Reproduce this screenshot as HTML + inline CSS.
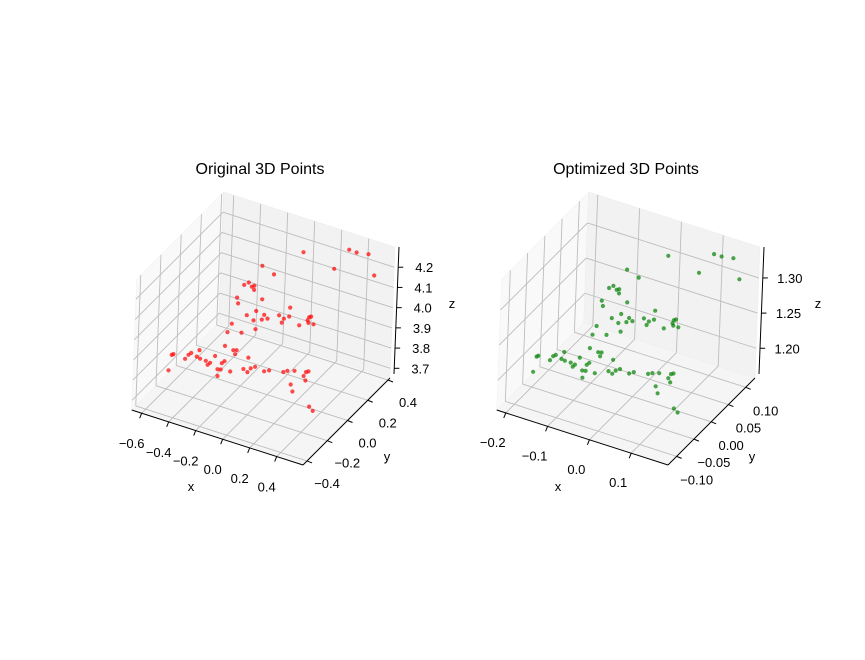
<!DOCTYPE html>
<html><head><meta charset="utf-8"><style>
html,body{margin:0;padding:0;background:#fff}
svg{display:block}
text{font-family:"Liberation Sans","DejaVu Sans",sans-serif;fill:#000}
</style></head><body>
<svg id="fig" width="865" height="660" viewBox="0 0 865 660" xmlns="http://www.w3.org/2000/svg">
<rect width="865" height="660" fill="#fff"/>
<text x="260" y="174" font-size="16" text-anchor="middle">Original 3D Points</text>
<text x="626" y="174" font-size="16" text-anchor="middle">Optimized 3D Points</text>
<g id="left"></g>
<g id="right"></g>
</svg>
<script>
// ---- data: original points ----
const origX = [0.233,0.567,0.622,0.709,0.462,0.757,-0.064,0.023,-0.192,-0.136,-0.117,-0.118,-0.240,-0.231,-0.056,0.151,-0.097,-0.164,-0.037,-0.114,-0.053,-0.012,0.072,0.108,0.146,0.094,0.222,0.293,0.307,0.282,0.289,0.326,-0.272,-0.301,-0.198,-0.097,-0.159,-0.690,-0.703,-0.580,-0.561,-0.501,-0.604,-0.519,-0.494,-0.452,-0.420,-0.385,-0.437,-0.315,-0.253,-0.229,-0.239,-0.141,-0.315,-0.334,-0.364,-0.340,-0.362,-0.270,-0.174,-0.144,-0.121,-0.089,-0.022,0.014,0.119,0.148,0.200,0.285,0.303,0.268,0.283,0.176,0.191,0.317,0.345,-0.722];
const origY = [-0.01,-0.01,-0.01,-0.01,-0.01,-0.01,-0.01,-0.01,-0.01,-0.01,-0.01,-0.01,-0.01,-0.01,-0.01,-0.01,-0.01,-0.01,-0.01,-0.01,-0.01,-0.01,-0.01,-0.01,-0.01,-0.01,-0.01,-0.01,-0.01,-0.01,-0.01,-0.01,-0.01,-0.01,-0.01,-0.01,-0.01,-0.01,-0.01,-0.01,-0.01,-0.01,-0.01,-0.01,-0.01,-0.01,-0.01,-0.01,-0.01,-0.01,-0.01,-0.01,-0.01,-0.01,-0.01,-0.01,-0.01,-0.01,-0.01,-0.01,-0.01,-0.01,-0.01,-0.01,-0.01,-0.01,-0.01,-0.01,-0.01,-0.01,-0.01,-0.01,-0.01,-0.01,-0.01,-0.01,-0.01,-0.01];
const origZ = [4.412,4.496,4.494,4.504,4.379,4.409,4.281,4.257,4.159,4.162,4.171,4.150,4.086,4.059,4.117,4.120,4.050,4.015,4.044,4.000,4.017,4.031,4.065,4.056,4.075,4.034,4.048,4.103,4.109,4.086,4.074,4.075,3.950,3.902,3.921,3.960,4.178,3.710,3.703,3.730,3.743,3.770,3.705,3.734,3.729,3.728,3.725,3.766,3.711,3.831,3.823,3.828,3.806,3.810,3.755,3.741,3.705,3.709,3.672,3.714,3.747,3.738,3.761,3.776,3.768,3.780,3.795,3.807,3.818,3.830,3.837,3.807,3.788,3.745,3.714,3.666,3.651,3.623];
// ---- data: optimized points ----
const optX = [0.071,0.179,0.197,0.225,0.145,0.241,-0.025,0.003,-0.066,-0.048,-0.042,-0.042,-0.082,-0.079,-0.022,0.045,-0.035,-0.057,-0.016,-0.041,-0.022,-0.008,0.019,0.031,0.043,0.026,0.067,0.090,0.095,0.087,0.089,0.101,-0.092,-0.101,-0.068,-0.035,-0.056,-0.227,-0.231,-0.192,-0.186,-0.166,-0.199,-0.172,-0.164,-0.150,-0.140,-0.129,-0.145,-0.106,-0.086,-0.078,-0.081,-0.050,-0.106,-0.112,-0.122,-0.114,-0.121,-0.092,-0.060,-0.051,-0.043,-0.033,-0.011,0.000,0.034,0.044,0.060,0.088,0.094,0.082,0.087,0.053,0.058,0.098,0.107,-0.238];
const optY = [0.001,0.001,0.001,0.001,0.001,0.001,0.001,0.001,0.001,0.001,0.001,0.001,0.001,0.001,0.001,0.001,0.001,0.001,0.001,0.001,0.001,0.001,0.001,0.001,0.001,0.001,0.001,0.001,0.001,0.001,0.001,0.001,0.001,0.001,0.001,0.001,0.001,0.001,0.001,0.001,0.001,0.001,0.001,0.001,0.001,0.001,0.001,0.001,0.001,0.001,0.001,0.001,0.001,0.001,0.001,0.001,0.001,0.001,0.001,0.001,0.001,0.001,0.001,0.001,0.001,0.001,0.001,0.001,0.001,0.001,0.001,0.001,0.001,0.001,0.001,0.001,0.001,0.001];
const optZ = [1.371,1.394,1.394,1.397,1.361,1.370,1.333,1.327,1.299,1.300,1.302,1.296,1.278,1.271,1.287,1.288,1.268,1.258,1.266,1.254,1.259,1.263,1.272,1.270,1.275,1.264,1.267,1.283,1.285,1.278,1.275,1.275,1.240,1.226,1.232,1.243,1.304,1.172,1.170,1.178,1.181,1.189,1.171,1.178,1.177,1.177,1.176,1.188,1.172,1.206,1.204,1.205,1.199,1.200,1.185,1.181,1.171,1.172,1.161,1.173,1.182,1.180,1.186,1.190,1.188,1.192,1.196,1.199,1.202,1.206,1.208,1.199,1.194,1.182,1.173,1.159,1.155,1.147];
// ---- tick labels ----
const origXTicks = [-0.6,-0.4,-0.2,0.0,0.2,0.4];
const origYTicks = [-0.4,-0.2,0.0,0.2,0.4];
const origZTicks = [3.7,3.8,3.9,4.0,4.1,4.2];
const optXTicks = [-0.2,-0.1,0.0,0.1];
const optYTicks = [-0.10,-0.05,0.00,0.05,0.10];
const optZTicks = [1.20,1.25,1.30];

const NS = "http://www.w3.org/2000/svg";
function mk(tag, attrs, parent){
  const e = document.createElementNS(NS, tag);
  for (const k in attrs) e.setAttribute(k, attrs[k]);
  parent.appendChild(e);
  return e;
}
function draw(g, cfg){
  const A = cfg.A;
  const ex=[171.3,55], ey=[87,-87], ez=[5,-131];
  function P(x,y,z){
    const fx=(x-cfg.xl[0])/(cfg.xl[1]-cfg.xl[0]);
    const fy=(y-cfg.yl[0])/(cfg.yl[1]-cfg.yl[0]);
    const fz=(z-cfg.zl[0])/(cfg.zl[1]-cfg.zl[0]);
    return [A[0]+fx*ex[0]+fy*ey[0]+fz*ez[0], A[1]+fx*ex[1]+fy*ey[1]+fz*ez[1]];
  }
  const [x0,x1]=cfg.xl,[y0,y1]=cfg.yl,[z0,z1]=cfg.zl;
  const poly = pts => pts.map(p=>p.join(',')).join(' ');
  // panes
  const pl = mk('polygon',{points:poly([P(x0,y0,z0),P(x0,y1,z0),P(x0,y1,z1),P(x0,y0,z1)]),fill:'#f9f9f9',stroke:'#f0f0f0','stroke-width':0.5},g);
  
  
  const pb = mk('polygon',{points:poly([P(x0,y1,z0),P(x1,y1,z0),P(x1,y1,z1),P(x0,y1,z1)]),fill:'#f2f2f2',stroke:'#ececec','stroke-width':0.5},g);
  
  
  const pf = mk('polygon',{points:poly([P(x0,y0,z0),P(x1,y0,z0),P(x1,y1,z0),P(x0,y1,z0)]),fill:'#f5f5f5',stroke:'#eeeeee','stroke-width':0.5},g);
  
  
  const gs={stroke:'#bdbdbd','stroke-width':0.9,fill:'none'};
  function line(a,b,st,name){
    const l = mk('line',Object.assign({x1:a[0],y1:a[1],x2:b[0],y2:b[1]},st),g);
    
    
    return l;
  }
  cfg.xt.forEach(v=>{ line(P(v,y0,z0),P(v,y1,z0),gs,'x-gridline'); line(P(v,y1,z0),P(v,y1,z1),gs,'x-gridline'); });
  cfg.yt.forEach(v=>{ line(P(x0,v,z0),P(x1,v,z0),gs,'y-gridline'); line(P(x0,v,z0),P(x0,v,z1),gs,'y-gridline'); });
  cfg.zt.forEach(v=>{ line(P(x0,y0,v),P(x0,y1,v),gs,'z-gridline'); line(P(x0,y1,v),P(x1,y1,v),gs,'z-gridline'); });
  const as={stroke:'#000','stroke-width':1};
  line(P(x0,y0,z0),P(x1,y0,z0),as,'x-axis-line');
  line(P(x1,y0,z0),P(x1,y1,z0),as,'y-axis-line');
  const zo=[4,-4];
  const zb=P(x1,y1,z0), zt=P(x1,y1,z1);
  line([zb[0]+zo[0],zb[1]+zo[1]],[zt[0]+zo[0],zt[1]],as,'z-axis-line');
  function lab(p,t,name){
    const e = mk('text',{x:p[0],y:p[1]+5,'font-size':13,'text-anchor':'middle'},g);
    e.textContent=t;
    
    
  }
  const fmt = (v,d)=> (v<0?'\u2212':'')+Math.abs(v).toFixed(d);
  cfg.xt.forEach(v=>{ const p=P(v,y0,z0); line(p,[p[0]-2,p[1]+5],as,'x-tick'); lab([p[0]+cfg.xo[0],p[1]+cfg.xo[1]],fmt(v,1),'x-tick-label'); });
  cfg.yt.forEach(v=>{ const p=P(x1,v,z0); line(p,[p[0]+5,p[1]+2],as,'y-tick'); lab([p[0]+cfg.yo[0],p[1]+cfg.yo[1]],fmt(v,cfg.yd),'y-tick-label'); });
  cfg.zt.forEach(v=>{ const p=P(x1,y1,v); const q=[p[0]+zo[0],p[1]]; line(q,[q[0]+5,q[1]],as,'z-tick'); lab([p[0]+cfg.zo[0],p[1]+cfg.zo[1]],fmt(v,cfg.zd),'z-tick-label'); });
  lab(cfg.xlab,'x','x-axis-title'); lab(cfg.ylab,'y','y-axis-title'); lab(cfg.zlab,'z','z-axis-title');
  // points
  for(let i=0;i<cfg.X.length;i++){
    const p=P(cfg.X[i],cfg.Y[i],cfg.Z[i]);
    const c=mk('circle',{cx:p[0].toFixed(1),cy:p[1].toFixed(1),r:2.1,fill:cfg.color,'fill-opacity':0.7},g);
    
    
  }
}
draw(document.getElementById('left'),{A:[131.7,410],xl:[-0.674,0.595],yl:[-0.44,0.42],zl:[3.652,4.300],
  xt:origXTicks,yt:origYTicks,zt:origZTicks,yd:1,zd:1,xo:[-10,30],yo:[20,22],zo:[30,0],
  xlab:[191,486],ylab:[387,456],zlab:[452,303],X:origX,Y:origY,Z:origZ,color:'#ff0000'});
draw(document.getElementById('right'),{A:[496.7,410],xl:[-0.2217,0.188],yl:[-0.125,0.127],zl:[1.1577,1.344],
  xt:optXTicks,yt:optYTicks,zt:optZTicks,yd:2,zd:2,xo:[-13,29],yo:[20,23],zo:[31,0],
  xlab:[558,486],ylab:[752,456],zlab:[818,303],X:optX,Y:optY,Z:optZ,color:'#008000'});
</script>
</body></html>
